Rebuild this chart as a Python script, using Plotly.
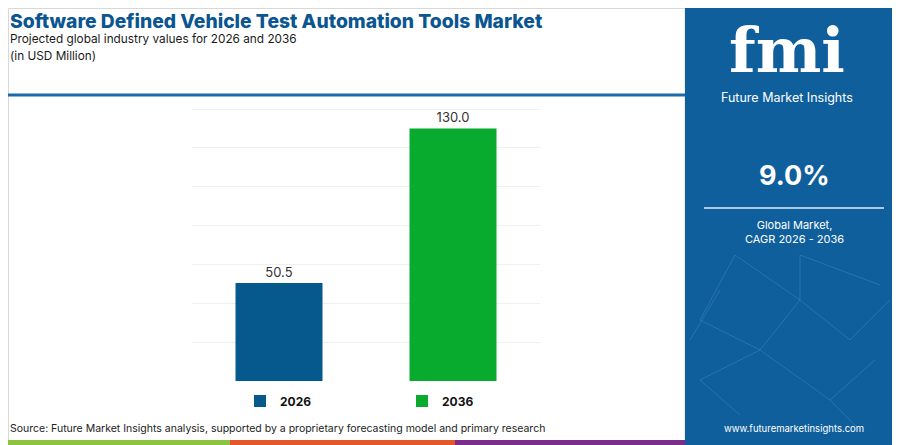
import plotly.graph_objects as go

# chart data
years = ["2026", "2036"]
values = [50.5, 130.0]
bar_colors = ["#05598d", "#09ab2f"]
cagr_text = "9.0%"

title = "Software Defined Vehicle Test Automation Tools Market"
subtitle = "Projected global industry values for 2026 and 2036"
units = "(in USD Million)"
source = "Source: Future Market Insights analysis, supported by a proprietary forecasting model and primary research"

# the page adds an 8px body margin, so the figure is drawn 8px smaller
OFF = 8
W, H = 900 - OFF, 445 - OFF
FONT = "Inter"
panel_blue = "#0f5f9c"

# plot area in page pixels
PL, PT, PW, PH = 192, 105, 348, 276
PB = PT + PH

fig = go.Figure()
for yr, val, col in zip(years, values, bar_colors):
    fig.add_trace(go.Bar(
        x=[yr], y=[val], name=yr, width=0.5,
        marker=dict(color=col, line=dict(width=0)),
        text=[f"{val:.1f}"], textposition="outside",
        textfont=dict(family=FONT, size=13, color="#333333"),
        cliponaxis=False,
    ))


def fx(x):
    return (x - PL) / PW


def fy(y):
    return (PB - y) / PH


fig.update_layout(
    width=W, height=H,
    margin=dict(l=PL - OFF, r=W - (PL - OFF) - PW, t=PT - OFF, b=H - (PT - OFF) - PH,
                autoexpand=False),
    paper_bgcolor="white", plot_bgcolor="white",
    barmode="overlay",
    showlegend=True,
    legend=dict(
        orientation="h", x=fx(240), y=fy(401), xanchor="left", yanchor="middle",
        entrywidth=117, entrywidthmode="pixels",
        font=dict(family=FONT, size=12, color="#111111", weight=700),
        itemsizing="constant",
    ),
    font=dict(family=FONT),
)
fig.update_xaxes(showticklabels=False, showgrid=False, zeroline=False, showline=False)
fig.update_yaxes(range=[0, 142.06], dtick=20, showticklabels=False,
                 gridcolor="#efefef", gridwidth=1, zeroline=False, showline=False)

shapes = []
# light frame round the white part
shapes.append(dict(type="rect", xref="paper", yref="paper", x0=fx(8.5), x1=fx(685),
                   y0=fy(445), y1=fy(8.5), line=dict(color="#d8d8d8", width=1),
                   layer="below"))
# blue divider under the heading
shapes.append(dict(type="line", xref="paper", yref="paper", x0=fx(8), x1=fx(686),
                   y0=fy(95), y1=fy(95), line=dict(color="#1d6aa8", width=3)))
# right panel
shapes.append(dict(type="rect", xref="paper", yref="paper", x0=fx(685), x1=fx(901),
                   y0=fy(446), y1=fy(8), fillcolor=panel_blue, line=dict(width=0)))
# line under CAGR
shapes.append(dict(type="line", xref="paper", yref="paper", x0=fx(704), x1=fx(884),
                   y0=fy(208), y1=fy(208), line=dict(color="#a9c8e2", width=2)))
# bottom colour stripes
for x0, x1, c in [(8, 230, "#8cc43f"), (230, 455, "#e4572b"), (455, 685, "#7b2d8b")]:
    shapes.append(dict(type="rect", xref="paper", yref="paper", x0=fx(x0), x1=fx(x1),
                       y0=fy(446), y1=fy(440), fillcolor=c, line=dict(width=0)))
# faint network pattern in the panel
net = [(735, 255, 700, 320), (735, 255, 800, 300), (800, 255, 880, 285), (800, 300, 760, 350),
       (760, 350, 700, 380), (800, 300, 850, 340), (850, 340, 890, 300), (760, 350, 830, 400),
       (830, 400, 875, 360), (700, 320, 760, 350), (700, 380, 740, 415), (830, 400, 860, 430),
       (800, 255, 800, 300), (720, 290, 690, 340)]
for a, b, c2, d in net:
    shapes.append(dict(type="line", xref="paper", yref="paper",
                       x0=fx(a), x1=fx(c2), y0=fy(b), y1=fy(d),
                       line=dict(color="rgba(160,200,235,0.18)", width=1)))
fig.update_layout(shapes=shapes)


def px_ann(text, x, y, size, color, weight=400, xanchor="left", family=FONT):
    fig.add_annotation(
        text=text, xref="paper", yref="paper",
        x=fx(x), y=fy(y), xanchor=xanchor, yanchor="middle",
        showarrow=False, font=dict(family=family, size=size, color=color, weight=weight),
    )


px_ann(title, 8, 21, 19.3, "#0b5591", 800)
px_ann(subtitle, 8, 39, 11.8, "#1a1a1a")
px_ann(units, 8, 56, 11.8, "#1a1a1a")
px_ann(source, 8, 429, 10.5, "#222222")

# right panel text
px_ann("fmi", 787, 50, 62, "white", 700, "center", "DejaVu Serif")
px_ann("Future Market Insights", 787, 97, 12.5, "white", 400, "center")
px_ann(cagr_text, 794, 175, 27, "white", 700, "center")
px_ann("Global Market,<br>CAGR 2026 - 2036", 794, 232, 11, "white", 400, "center")
px_ann("www.futuremarketinsights.com", 794, 428, 9.5, "white", 400, "center")

fig.write_html("out.html")
